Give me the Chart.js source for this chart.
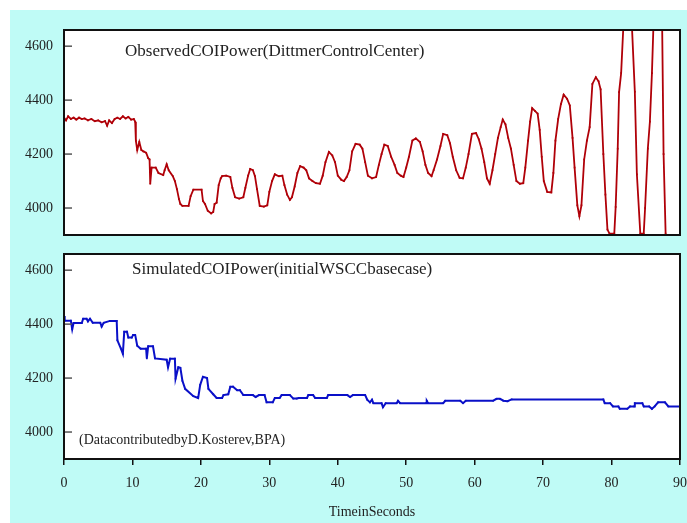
<!DOCTYPE html>
<html>
<head>
<meta charset="utf-8">
<script src="https://cdn.jsdelivr.net/npm/chart.js@4"></script>
<style>
  html, body { margin: 0; padding: 0; background: #ffffff; }
  #page { position: relative; width: 687px; height: 523px; overflow: hidden; }
  #back { position: absolute; left: 10px; top: 10px; width: 677px; height: 513px; background: #bffbf6; }
  #topWrap { position: absolute; left: 0; top: 0; width: 687px; height: 240px; }
  #botWrap { position: absolute; left: 0; top: 240px; width: 687px; height: 283px; }
</style>
</head>
<body>
<div id="page">
  <div id="back"></div>
  <div id="topWrap"><canvas id="topChart" width="687" height="240"></canvas></div>
  <div id="botWrap"><canvas id="botChart" width="687" height="283"></canvas></div>
</div>
<script>
// ---- data ----
const xTicks = [0, 10, 20, 30, 40, 50, 60, 70, 80, 90];
const yTicks = [4000, 4200, 4400, 4600];

// observed COI power (Dittmer Control Center)
const obsT = [
  0.0, 0.3, 0.6, 1.0, 1.4, 1.8, 2.2, 2.6, 3.0, 3.5, 4.0, 4.5, 5.0, 5.5, 6.0, 6.3, 6.6, 7.0, 7.4, 7.8,
  8.2, 8.6, 9.0, 9.4, 9.8, 10.2, 10.4, 10.5, 10.7, 11.0, 11.3, 11.6, 12.0, 12.3, 12.5, 12.6, 12.8, 13.4, 13.8, 14.5,
  14.7, 15.0, 15.3, 15.9, 16.2, 16.5, 16.8, 17.0, 17.3, 18.2, 18.5, 18.9, 20.1, 20.3, 20.6, 21.0, 21.5, 21.8, 22.0, 22.3,
  22.6, 22.9, 23.1, 23.7, 24.3, 24.6, 25.0, 25.6, 26.2, 26.5, 26.9, 27.2, 27.6, 27.9, 28.2, 28.6, 29.2, 29.7, 30.0, 30.4,
  30.8, 31.4, 31.9, 32.2, 32.6, 33.0, 33.3, 33.7, 34.1, 34.5, 35.0, 35.4, 35.8, 36.3, 36.8, 37.4, 37.8, 38.2, 38.7, 39.2,
  39.6, 40.0, 40.5, 40.9, 41.3, 41.7, 42.1, 42.6, 43.2, 43.6, 44.0, 44.4, 45.0, 45.6, 46.0, 46.4, 46.8, 47.3, 47.8, 48.3,
  48.7, 49.2, 49.6, 50.0, 50.4, 50.9, 51.4, 52.0, 52.4, 52.8, 53.2, 53.7, 54.0, 54.5, 55.0, 55.4, 56.0, 56.4, 56.8, 57.3,
  57.8, 58.3, 58.7, 59.1, 59.6, 60.2, 60.6, 61.0, 61.4, 61.8, 62.2, 62.6, 63.0, 63.4, 63.8, 64.1, 64.5, 64.9, 65.3, 65.7,
  66.1, 66.6, 67.1, 67.4, 67.8, 68.1, 68.4, 68.8, 69.2, 69.5, 69.8, 70.1, 70.6, 71.2, 71.5, 71.8, 72.2, 72.6, 73.0, 73.5,
  73.9, 74.3, 74.6, 75.0, 75.3, 75.6, 76.0, 76.4, 76.8, 77.2, 77.7, 78.1, 78.4, 78.8, 79.1, 79.4, 79.7, 80.4, 80.6, 80.9,
  81.1, 81.4, 81.7, 83.0, 83.4, 83.7, 84.2, 84.7, 84.9, 85.3, 85.6, 85.9, 86.1, 87.4, 87.6, 87.9
];
const obsV = [
  4335, 4325, 4340, 4330, 4335, 4328, 4335, 4330, 4332, 4325, 4330, 4322, 4325, 4318, 4322, 4305, 4325, 4315, 4330, 4335,
  4330, 4340, 4332, 4338, 4328, 4330, 4320, 4250, 4215, 4245, 4215, 4210, 4205, 4185, 4180, 4090, 4150, 4150, 4130, 4122,
  4140, 4162, 4140, 4118, 4100, 4070, 4033, 4015, 4008, 4008, 4044, 4068, 4068, 4026, 4015, 3990, 3980, 3985, 4015, 4020,
  4085, 4110, 4118, 4120, 4115, 4075, 4040, 4035, 4040, 4075, 4120, 4145, 4140, 4118, 4070, 4008, 4005, 4010, 4060, 4100,
  4125, 4118, 4120, 4085, 4050, 4030, 4040, 4080, 4130, 4155, 4150, 4140, 4110, 4100, 4092, 4090, 4120, 4170, 4208, 4195,
  4170, 4120, 4105, 4100, 4115, 4140, 4210, 4238, 4235, 4220, 4170, 4120, 4110, 4115, 4160, 4200, 4235, 4230, 4190, 4160,
  4130, 4120, 4115, 4150, 4190, 4250, 4258, 4245, 4210, 4160, 4130, 4118, 4140, 4180, 4230, 4275, 4270, 4240, 4190, 4140,
  4112, 4110, 4150, 4200, 4275, 4278, 4255, 4220, 4170, 4110, 4090, 4140, 4200, 4260, 4300, 4328, 4310, 4260, 4220, 4160,
  4100, 4090, 4092, 4150, 4250, 4320, 4370, 4360, 4350, 4290, 4190, 4100, 4060, 4058, 4130, 4250, 4330, 4385, 4420, 4405,
  4380, 4260, 4150, 4010, 3970, 4010, 4180, 4250, 4300, 4460, 4485, 4470, 4440, 4200, 4050, 3920, 3905, 3905, 4004, 4220,
  4430, 4500, 4660, 4660, 4431, 4125, 3905, 3905, 4000, 4220, 4320, 4500, 4660, 4660, 4200, 3905
];

// simulated COI power (initial WSCC base case)
const simT = [
  0.0, 0.1, 1.0, 1.2, 1.4, 2.6, 2.8, 3.3, 3.5, 3.8, 4.2, 5.3, 5.5, 5.8, 6.7, 7.7, 7.8, 8.3, 8.6, 8.8,
  9.2, 9.4, 9.9, 10.1, 10.4, 10.7, 11.2, 12.0, 12.1, 12.3, 13.0, 13.3, 15.0, 15.2, 15.5, 16.2, 16.3, 16.7, 17.0, 17.3,
  17.7, 18.9, 19.6, 19.9, 20.3, 20.9, 21.1, 21.8, 22.3, 23.1, 23.3, 24.0, 24.3, 24.7, 25.3, 25.7, 26.2, 27.6, 28.0, 28.5,
  29.3, 29.6, 30.5, 30.8, 31.5, 31.8, 33.0, 33.5, 34.0, 34.3, 35.5, 35.7, 36.4, 36.7, 38.4, 38.6, 41.4, 41.8, 42.2, 44.0,
  44.3, 44.7, 45.0, 45.2, 46.4, 46.6, 47.0, 48.6, 48.8, 49.1, 52.9, 53.0, 53.2, 55.4, 55.7, 57.9, 58.3, 58.7, 62.7, 63.2,
  63.7, 64.2, 64.8, 65.4, 78.8, 79.0, 79.8, 80.2, 81.0, 81.2, 82.3, 82.7, 83.3, 83.4, 84.5, 84.7, 85.5, 85.9, 86.3, 86.8,
  87.8, 88.3, 90.0
];
const simV = [
  4430, 4413, 4413, 4381, 4404, 4404, 4420, 4420, 4410, 4420, 4405, 4405, 4391, 4405, 4412, 4412, 4340, 4310, 4290, 4372,
  4372, 4350, 4350, 4360, 4360, 4320, 4309, 4309, 4273, 4318, 4318, 4273, 4268, 4240, 4272, 4272, 4198, 4240, 4238, 4190,
  4160, 4133, 4126, 4175, 4205, 4200, 4160, 4140, 4126, 4126, 4137, 4140, 4168, 4168, 4155, 4155, 4137, 4137, 4130, 4137,
  4137, 4110, 4110, 4126, 4126, 4137, 4137, 4124, 4124, 4126, 4126, 4137, 4137, 4126, 4126, 4137, 4137, 4130, 4137, 4137,
  4120, 4110, 4120, 4107, 4107, 4092, 4107, 4107, 4116, 4107, 4107, 4116, 4107, 4107, 4116, 4116, 4107, 4116, 4116, 4123,
  4123, 4116, 4114, 4121, 4121, 4107, 4107, 4095, 4095, 4086, 4086, 4095, 4095, 4107, 4107, 4095, 4095, 4086, 4095, 4110,
  4110, 4095, 4095
];

const serif = '"Liberation Serif", "Times New Roman", serif';

// white plot area, inward y ticks, frame and in-plot texts
const panelDecor = {
  id: 'panelDecor',
  beforeDraw(chart) {
    const { ctx, chartArea: a } = chart;
    ctx.save();
    ctx.fillStyle = '#ffffff';
    ctx.fillRect(a.left, a.top, a.right - a.left, a.bottom - a.top);
    ctx.restore();
  },
  afterDraw(chart, args, opts) {
    const { ctx, chartArea: a, scales } = chart;
    ctx.save();
    ctx.strokeStyle = '#555';
    ctx.lineWidth = 1.5;
    scales.y.ticks.forEach(tk => {
      const y = scales.y.getPixelForValue(tk.value);
      ctx.beginPath();
      ctx.moveTo(a.left, y);
      ctx.lineTo(a.left + 8, y);
      ctx.stroke();
    });
    ctx.strokeStyle = '#111';
    ctx.lineWidth = 2;
    ctx.strokeRect(a.left, a.top, a.right - a.left, a.bottom - a.top);
    ctx.fillStyle = '#222';
    ctx.textBaseline = 'middle';
    (opts.texts || []).forEach(t => {
      ctx.font = t.font;
      ctx.fillText(t.text, a.left + t.dx, a.top + t.dy);
    });
    ctx.restore();
  }
};

function yScale() {
  return {
    type: 'linear',
    min: 3900,
    max: 4660,
    afterBuildTicks: s => { s.ticks = yTicks.map(v => ({ value: v })); },
    afterFit: s => { s.width = 64; s.paddingTop = 0; s.paddingBottom = 0; },
    grid: { display: false, drawTicks: false },
    border: { display: false },
    ticks: { color: '#222', padding: 11, font: { family: serif, size: 14 }, callback: v => String(v) }
  };
}

function makePanel(id, ts, vs, color, width, xOpts, pad, texts) {
  return new Chart(document.getElementById(id), {
    type: 'line',
    data: {
      datasets: [{
        data: ts.map((t, i) => ({ x: t, y: vs[i] })),
        borderColor: color,
        backgroundColor: color,
        borderWidth: width,
        pointStyle: 'rect',
        pointRadius: 1.2,
        pointBorderWidth: 0,
        tension: 0,
        fill: false
      }]
    },
    options: {
      responsive: false,
      animation: false,
      layout: { padding: pad },
      plugins: { legend: { display: false }, tooltip: { enabled: false }, panelDecor: { texts: texts } },
      scales: { x: xOpts, y: yScale() }
    },
    plugins: [panelDecor]
  });
}

makePanel('topChart', obsT, obsV, '#b00008', 1.8,
  { type: 'linear', min: 0, max: 90, display: false },
  { top: 30, bottom: 5, left: 0, right: 7 },
  [{ text: 'ObservedCOIPower(DittmerControlCenter)', dx: 61, dy: 22, font: '17px ' + serif }]
);

makePanel('botChart', simT, simV, '#0a10c8', 2,
  {
    type: 'linear', min: 0, max: 90,
    afterBuildTicks: s => { s.ticks = xTicks.map(v => ({ value: v })); },
    afterFit: s => { s.height = 64; s.paddingLeft = 0; s.paddingRight = 0; },
    grid: { drawOnChartArea: false, drawTicks: true, tickLength: 6, color: '#111', lineWidth: 1.5 },
    border: { display: false },
    ticks: { color: '#222', padding: 10, maxRotation: 0, font: { family: serif, size: 14 } },
    title: { display: true, text: 'TimeinSeconds', color: '#222', padding: { top: 8, bottom: 2 }, font: { family: serif, size: 14 } }
  },
  { top: 14, bottom: 0, left: 0, right: 7 },
  [
    { text: 'SimulatedCOIPower(initialWSCCbasecase)', dx: 68, dy: 16, font: '17px ' + serif },
    { text: '(DatacontributedbyD.Kosterev,BPA)', dx: 15, dy: 186, font: '14px ' + serif }
  ]
);
</script>
</body>
</html>
